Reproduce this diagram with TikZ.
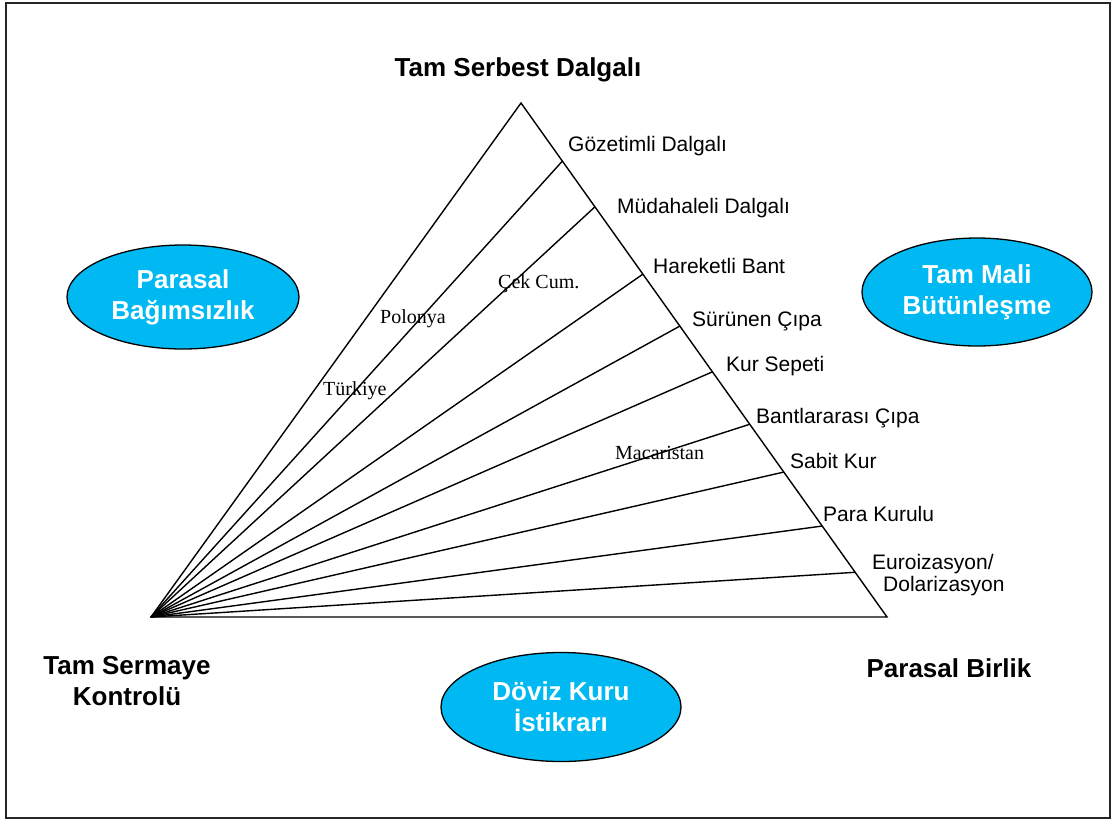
\documentclass[tikz,border=0pt]{standalone}
\usepackage{fontspec}
\setmainfont{Liberation Sans}
\newfontfamily\timesf{Liberation Serif}
\usetikzlibrary{calc,shapes.geometric}
\definecolor{skyb}{HTML}{00B9F2}
\begin{document}
\begin{tikzpicture}[x=1pt,y=-1pt,
  fan/.style={line width=1.4pt, line join=miter},
  ell/.style={ellipse, draw, line width=1.3pt, fill=skyb, inner sep=0pt, text=white,
    font=\bfseries\fontsize{26}{31}\selectfont, align=center},
  corner/.style={font=\bfseries\fontsize{26}{31}\selectfont, align=center, inner sep=0pt},
  regime/.style={anchor=base west, font=\fontsize{21}{24}\selectfont, inner sep=0pt},
  country/.style={anchor=base west, font=\timesf\fontsize{20}{24}\selectfont, inner sep=0pt}]
\useasboundingbox (0,0) rectangle (1115,820);
\draw[line width=2.2pt, black!85] (6,3) rectangle (1110,818);

\coordinate (A) at (521,103);
\coordinate (L) at (151,617);
\coordinate (R) at (887,617);
\draw[fan] (L) -- (A) -- (R) -- cycle;
\foreach \t [count=\i] in {0.113,0.202,0.333,0.434,0.523,0.625,0.718,0.823,0.913} {
  \coordinate (p\i) at ($(A)!\t!(R)$);
  \draw[fan] (L) -- (p\i);
}

\node[regime] (g1) at (568,151) {Gözetimli Dalgalı};
\node[regime] (g2) at (617,213) {Müdahaleli Dalgalı};
\node[regime] (g3) at (653,273) {Hareketli Bant};
\node[regime] (g4) at (692,326) {Sürünen Çıpa};
\node[regime] (g5) at (726,371) {Kur Sepeti};
\node[regime] (g6) at (756,423) {Bantlararası Çıpa};
\node[regime] (g7) at (790,468) {Sabit Kur};
\node[regime] (g8) at (823,521) {Para Kurulu};
\node[regime] (g9) at (872,569) {Euroizasyon/};
\node[regime] (g10) at (883,591) {Dolarizasyon};

\node[country] (pl) at (380,323) {Polonya};
\node[country] (tr) at (323,395) {Türkiye};
\node[country] (cz) at (498,288) {Çek Cum.};
\node[country] (hu) at (615,459) {Macaristan};

\node[corner, anchor=base] (top) at (518,76) {Tam Serbest Dalgalı};
\node[corner] (bl) at (127,681) {Tam Sermaye\\Kontrolü};
\node[corner, anchor=base] (br) at (949,677) {Parasal Birlik};

\node[ell, minimum width=232pt, minimum height=104pt] (e1) at (183,297) {Parasal\\Bağımsızlık};
\node[ell, minimum width=230pt, minimum height=108pt] (e2) at (977,292) {Tam Mali\\Bütünleşme};
\node[ell, minimum width=240pt, minimum height=109pt] (e3) at (561,707) {Döviz Kuru\\İstikrarı};
\end{tikzpicture}
\end{document}
